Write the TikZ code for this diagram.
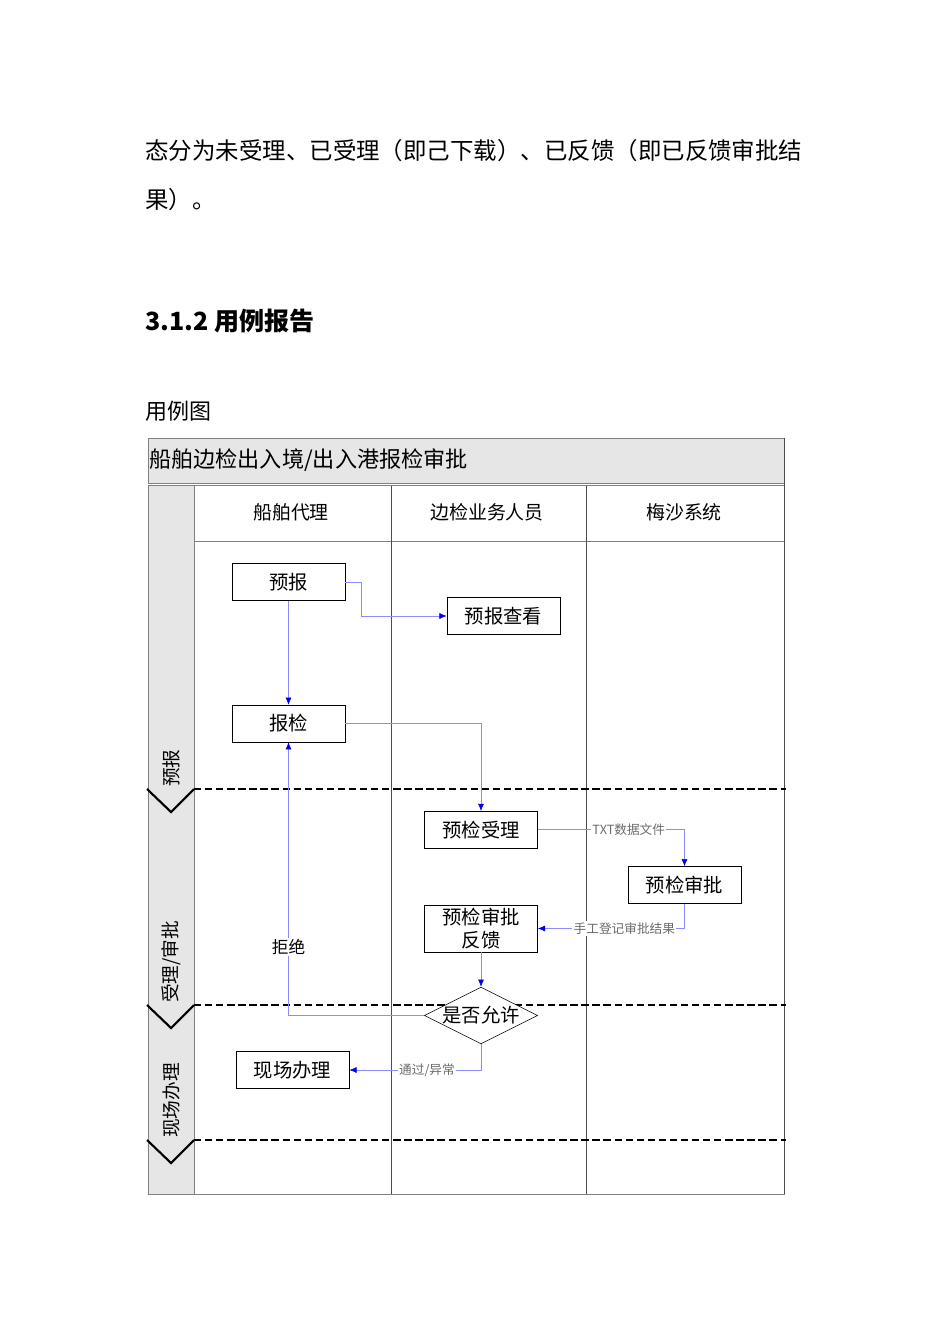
\documentclass[tikz,border=0pt]{standalone}
\usepackage{fontspec}
\setmainfont{Noto Sans CJK SC}
\usetikzlibrary{shapes.geometric, calc, arrows.meta}
\definecolor{LaneGray}{HTML}{E6E6E6}
\definecolor{FrameGray}{HTML}{808080}
\definecolor{ColGray}{HTML}{4D4D4D}
\definecolor{FlowBlue}{HTML}{8C8CFF}
\definecolor{TipBlue}{HTML}{0000F0}
\definecolor{NoteGray}{HTML}{6B6B6B}
\def\setfs#1{\fontsize{#1}{#1}\selectfont}

\begin{document}
\begin{tikzpicture}[
    x=0.75pt, y=-0.75pt,
    >={Latex[length=5.5pt, width=4.5pt, color=TipBlue]},
    plainText/.style={anchor=west, inner sep=0pt},
    headKey/.style={inner sep=0pt, font=\setfs{14.2}},
    stepBox/.style={draw, rectangle, fill=white, minimum width=84.75pt, minimum height=27.5pt, inner sep=0pt, font=\setfs{14.5}},
    decisionKey/.style={draw, diamond, fill=white, aspect=2, minimum width=84.75pt, minimum height=42pt, inner sep=0pt, font=\setfs{14.5}},
    flowLine/.style={draw=FlowBlue, line width=0.5pt, ->},
    flowNote/.style={fill=white, text=NoteGray, inner sep=1pt, font=\setfs{9.5}},
    laneSep/.style={line width=2.2pt, dash pattern=on 5.5pt off 2.8pt},
    laneMark/.style={line width=1.6pt},
    laneName/.style={rotate=90, anchor=west, inner sep=0pt, font=\setfs{14}},
  ]
  \useasboundingbox (0,0) rectangle (950,1344);
  % text above the chart
  \node[plainText, font=\setfs{17.6}] (lineA) at (145,151) {态分为未受理、已受理（即己下载）、已反馈（即已反馈审批结};
  \node[plainText, font=\setfs{17.6}] (lineB) at (145,200) {果）。};
  \node[plainText, font=\setfs{18.8}\bfseries] (secHead) at (145,321) {3.1.2 用例报告};
  \node[plainText, font=\setfs{16.5}] (figHead) at (145,411) {用例图};
  % frame
  \filldraw[fill=LaneGray, draw=FrameGray] (148,438) rectangle (784,483);
  \draw[FrameGray] (148,485.5) -- (784,485.5);
  \filldraw[fill=LaneGray, draw=FrameGray] (148,485.5) rectangle (194,1194);
  \draw[FrameGray] (194,485.5) rectangle (784,1194);
  \draw[FrameGray] (194,541) -- (784,541);
  \draw[ColGray] (391,485.5) -- (391,1194);
  \draw[ColGray] (586,485.5) -- (586,1194);
  \draw[ColGray] (784,438) -- (784,1194);
  \node[plainText, font=\setfs{16.6}] (chartTitle) at (149,460) {船舶边检出入境/出入港报检审批};
  \node[headKey] (agentHead) at (291,512) {船舶代理};
  \node[headKey] (staffHead) at (487,512) {边检业务人员};
  \node[headKey] (sysHead) at (684,512) {梅沙系统};
  % lanes
  \foreach \y in {789,1005,1140}{
    \draw[laneSep] (194,\y) -- (786,\y);
    \draw[laneMark] (147,\y) -- (171,\y+23) -- (194,\y);
  }
  \node[laneName] (laneA) at (171,787) {预报};
  \node[laneName] (laneB) at (171,1003) {受理/审批};
  \node[laneName] (laneC) at (171,1138) {现场办理};
  % steps
  \node[stepBox] (yubao) at (288.5,582) {预报};
  \node[stepBox] (yubaoChakan) at (503.5,616) {预报查看};
  \node[stepBox] (baojian) at (288.5,723.5) {报检};
  \node[stepBox] (yujianShouli) at (481,829.7) {预检受理};
  \node[stepBox] (yujianShenpi) at (684.5,885) {预检审批};
  \node[stepBox, minimum height=35pt, align=center, font=\setfs{14.5}\linespread{1.2}\selectfont] (shenpiFankui) at (481,928.5) {预检审批\\反馈};
  \node[decisionKey] (shifouYunxu) at (481,1015.5) {是否允许};
  \node[stepBox] (xianchang) at (292.5,1070) {现场办理};
  % lines
  \draw[flowLine] (yubao.east) -- ++(16,0) |- (yubaoChakan.west);
  \draw[flowLine] (yubao.south) -- (baojian.north);
  \draw[flowLine] (baojian.east) -| (yujianShouli.north);
  \draw[flowLine] (yujianShouli.east) -| node[flowNote, pos=0.31] (noteTxt) {TXT数据文件} (yujianShenpi.north);
  \draw[flowLine] (yujianShenpi.south) |- node[flowNote, pos=0.705] (noteManual) {手工登记审批结果} (shenpiFankui.east);
  \draw[flowLine] (shenpiFankui.south) -- (shifouYunxu.north);
  \draw[flowLine] (shifouYunxu.west) -| node[fill=white, inner sep=1pt, pos=0.626, font=\setfs{12.5}] (noteRefuse) {拒绝} (baojian.south);
  \draw[flowLine] (shifouYunxu.south) |- node[flowNote, pos=0.705] (notePass) {通过/异常} (xianchang.east);
\end{tikzpicture}
\end{document}
